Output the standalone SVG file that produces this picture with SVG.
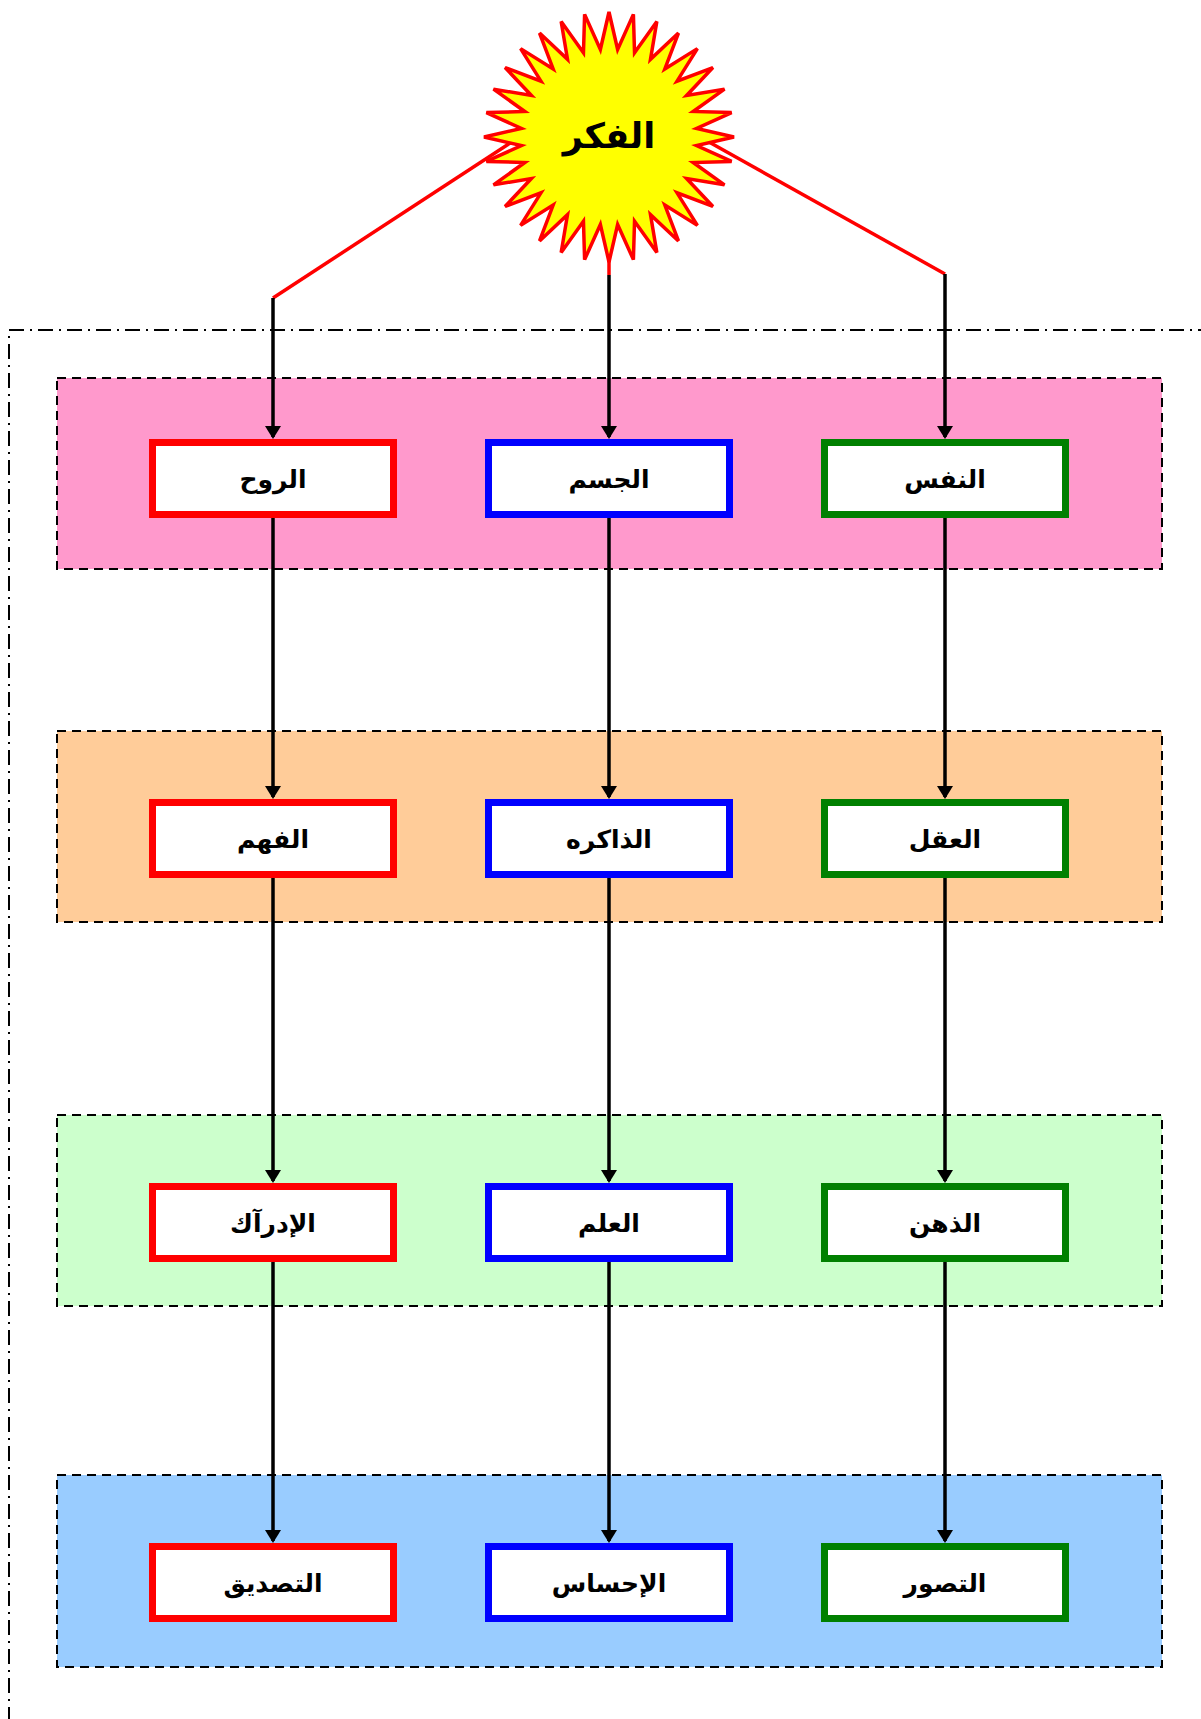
<svg xmlns="http://www.w3.org/2000/svg" width="1201" height="1719" viewBox="0 0 1201 1719">
<style>
.panel{stroke:#000;stroke-width:2;stroke-dasharray:9,6}
.frame{fill:none;stroke:#000;stroke-width:2;stroke-dasharray:15,6,2,6}
.node{fill:#fff;stroke-width:7}
.red{stroke:#FF0000}
.blue{stroke:#0000FF}
.green{stroke:#008000}
.lbl{font-family:"DejaVu Sans","Noto Sans",sans-serif;font-weight:bold;font-size:25px;fill:#000;text-anchor:middle}
.sunlbl{font-family:"DejaVu Sans","Noto Sans",sans-serif;font-weight:bold;font-size:35px;fill:#000;text-anchor:middle}
.arr{fill:none;stroke:#000;stroke-width:3.5;marker-end:url(#ah)}
.rl{fill:none;stroke:#FF0000;stroke-width:3.5}
</style>
<defs>
<marker id="ah" markerUnits="userSpaceOnUse" markerWidth="13" markerHeight="16" viewBox="0 0 13 16" refX="11" refY="8" orient="auto">
<path d="M0,0 L13,8 L0,16 z" fill="#000"/>
</marker>
</defs>
<rect width="1201" height="1719" fill="#fff"/>
<g id="panels">
<rect class="panel" x="57" y="378" width="1105" height="191" fill="#FF99CC"/>
<rect class="panel" x="57" y="731" width="1105" height="191" fill="#FFCC99"/>
<rect class="panel" x="57" y="1115" width="1105" height="191" fill="#CCFFCC"/>
<rect class="panel" x="57" y="1475" width="1105" height="192" fill="#99CCFF"/>
</g>
<rect id="frame" class="frame" x="9" y="330" width="1400" height="1500"/>
<g id="connectors">
<polyline class="rl" points="530,130 273,298"/>
<polyline class="rl" points="700,137 945,274"/>
<line class="rl" x1="609" y1="240" x2="609" y2="275"/>
<line class="arr" x1="273" y1="298" x2="273" y2="437"/>
<line class="arr" x1="609" y1="275" x2="609" y2="437"/>
<line class="arr" x1="945" y1="274" x2="945" y2="437"/>
<line class="arr" x1="273" y1="518" x2="273" y2="797"/>
<line class="arr" x1="609" y1="518" x2="609" y2="797"/>
<line class="arr" x1="945" y1="518" x2="945" y2="797"/>
<line class="arr" x1="273" y1="878" x2="273" y2="1181"/>
<line class="arr" x1="609" y1="878" x2="609" y2="1181"/>
<line class="arr" x1="945" y1="878" x2="945" y2="1181"/>
<line class="arr" x1="273" y1="1262" x2="273" y2="1541"/>
<line class="arr" x1="609" y1="1262" x2="609" y2="1541"/>
<line class="arr" x1="945" y1="1262" x2="945" y2="1541"/>
</g>
<g id="fikr">
<path transform="translate(609,137)" fill="#FFFF00" stroke="#FF0000" stroke-width="3.5" d="M0,-125 L8.63,-87.58 L24.39,-122.6 L25.54,-84.21 L47.84,-115.49 L41.48,-77.61 L69.45,-103.93 L55.83,-68.02 L88.39,-88.39 L68.02,-55.83 L103.93,-69.45 L77.61,-41.48 L115.49,-47.84 L84.21,-25.54 L122.6,-24.39 L87.58,-8.63 L125,0 L87.58,8.63 L122.6,24.39 L84.21,25.54 L115.49,47.84 L77.61,41.48 L103.93,69.45 L68.02,55.83 L88.39,88.39 L55.83,68.02 L69.45,103.93 L41.48,77.61 L47.84,115.49 L25.54,84.21 L24.39,122.6 L8.63,87.58 L0,125 L-8.63,87.58 L-24.39,122.6 L-25.54,84.21 L-47.84,115.49 L-41.48,77.61 L-69.45,103.93 L-55.83,68.02 L-88.39,88.39 L-68.02,55.83 L-103.93,69.45 L-77.61,41.48 L-115.49,47.84 L-84.21,25.54 L-122.6,24.39 L-87.58,8.63 L-125,0 L-87.58,-8.63 L-122.6,-24.39 L-84.21,-25.54 L-115.49,-47.84 L-77.61,-41.48 L-103.93,-69.45 L-68.02,-55.83 L-88.39,-88.39 L-55.83,-68.02 L-69.45,-103.93 L-41.48,-77.61 L-47.84,-115.49 L-25.54,-84.21 L-24.39,-122.6 L-8.63,-87.58 Z"/>
<text class="sunlbl" x="609" y="148">الفكر</text>
</g>
<g id="ruh"><rect class="node red" x="152.5" y="442.5" width="241" height="72"/><text class="lbl" x="273" y="488">الروح</text></g>
<g id="jism"><rect class="node blue" x="488.5" y="442.5" width="241" height="72"/><text class="lbl" x="609" y="488">الجسم</text></g>
<g id="nafs"><rect class="node green" x="824.5" y="442.5" width="241" height="72"/><text class="lbl" x="945" y="488">النفس</text></g>
<g id="fahm"><rect class="node red" x="152.5" y="802.5" width="241" height="72"/><text class="lbl" x="273" y="848">الفهم</text></g>
<g id="thakira"><rect class="node blue" x="488.5" y="802.5" width="241" height="72"/><text class="lbl" x="609" y="848">الذاكره</text></g>
<g id="aql"><rect class="node green" x="824.5" y="802.5" width="241" height="72"/><text class="lbl" x="945" y="848">العقل</text></g>
<g id="idrak"><rect class="node red" x="152.5" y="1186.5" width="241" height="72"/><text class="lbl" x="273" y="1232">الإدرآك</text></g>
<g id="ilm"><rect class="node blue" x="488.5" y="1186.5" width="241" height="72"/><text class="lbl" x="609" y="1232">العلم</text></g>
<g id="thihn"><rect class="node green" x="824.5" y="1186.5" width="241" height="72"/><text class="lbl" x="945" y="1232">الذهن</text></g>
<g id="tasdiq"><rect class="node red" x="152.5" y="1546.5" width="241" height="72"/><text class="lbl" x="273" y="1592">التصديق</text></g>
<g id="ihsas"><rect class="node blue" x="488.5" y="1546.5" width="241" height="72"/><text class="lbl" x="609" y="1592">الإحساس</text></g>
<g id="tasawwur"><rect class="node green" x="824.5" y="1546.5" width="241" height="72"/><text class="lbl" x="945" y="1592">التصور</text></g>
</svg>
